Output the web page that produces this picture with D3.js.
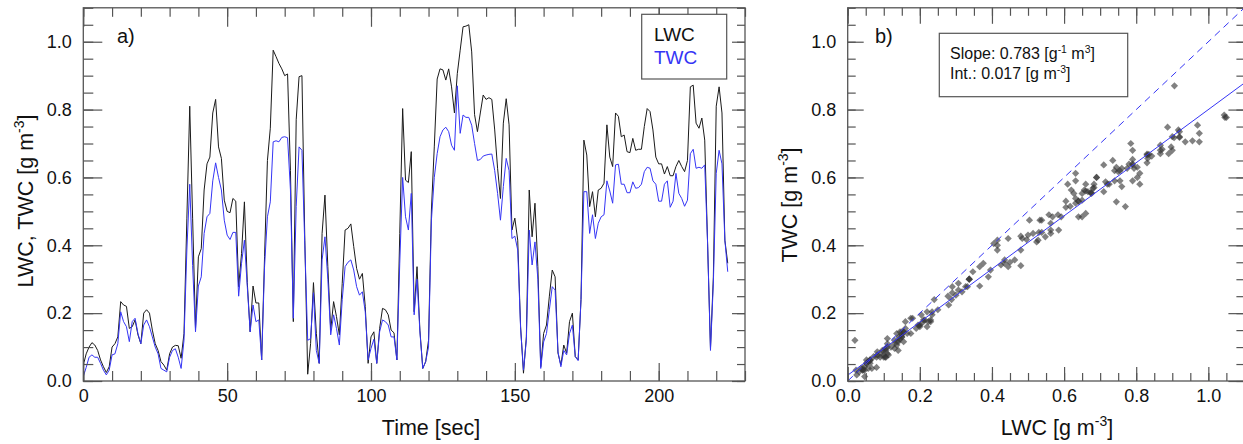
<!DOCTYPE html>
<html>
<head>
<meta charset="utf-8">
<script src="https://cdn.jsdelivr.net/npm/d3@7"></script>
<style>
  body { margin: 0; background: #fff; }
  svg { display: block; font-family: "Liberation Sans", Arial, Helvetica, sans-serif; }
</style>
</head>
<body>
<div id="chart"></div>
<script>
// LWC and TWC, one value per second (t = 0 .. 224 s)
const lwc = [
  0.047, 0.08, 0.10, 0.113, 0.106, 0.09, 0.062, 0.042, 0.025, 0.042,
  0.10, 0.11, 0.13, 0.234, 0.224, 0.22, 0.155, 0.16, 0.18, 0.136,
  0.11, 0.20, 0.21, 0.20, 0.15, 0.11, 0.09, 0.057, 0.047, 0.032,
  0.08, 0.10, 0.105, 0.104, 0.067, 0.14, 0.48, 0.81, 0.48, 0.155,
  0.366, 0.39, 0.563, 0.64, 0.66, 0.79, 0.83, 0.69, 0.656, 0.533,
  0.50, 0.496, 0.538, 0.53, 0.278, 0.376, 0.528, 0.29, 0.145, 0.28,
  0.23, 0.23, 0.062, 0.366, 0.65, 0.745, 0.975, 0.956, 0.936, 0.92,
  0.90, 0.905, 0.62, 0.175, 0.77, 0.897, 0.90, 0.415, 0.02, 0.11,
  0.29, 0.14, 0.052, 0.435, 0.548, 0.337, 0.15, 0.234, 0.19, 0.136,
  0.288, 0.445, 0.45, 0.463, 0.396, 0.332, 0.30, 0.317, 0.22, 0.052,
  0.13, 0.145, 0.052, 0.155, 0.214, 0.21, 0.195, 0.15, 0.142, 0.062,
  0.435, 0.803, 0.592, 0.585, 0.676, 0.204, 0.337, 0.15, 0.037, 0.057,
  0.12, 0.504, 0.69, 0.89, 0.92, 0.917, 0.887, 0.92, 0.867, 0.79,
  0.906, 0.975, 1.044, 1.046, 1.05, 0.97, 0.785, 0.735, 0.79, 0.843,
  0.83, 0.835, 0.83, 0.74, 0.627, 0.538, 0.76, 0.832, 0.755, 0.445,
  0.48, 0.415, 0.16, 0.023, 0.13, 0.563, 0.425, 0.524, 0.337, 0.042,
  0.14, 0.165, 0.25, 0.327, 0.307, 0.082, 0.047, 0.106, 0.082, 0.175,
  0.20, 0.072, 0.062, 0.24, 0.71, 0.666, 0.514, 0.558, 0.484, 0.563,
  0.568, 0.583, 0.755, 0.66, 0.632, 0.79, 0.78, 0.72, 0.725, 0.676,
  0.673, 0.715, 0.68, 0.683, 0.683, 0.75, 0.803, 0.794, 0.74, 0.66,
  0.64, 0.64, 0.61, 0.632, 0.605, 0.605, 0.632, 0.65, 0.632, 0.617,
  0.65, 0.867, 0.872, 0.76, 0.745, 0.775, 0.71, 0.405, 0.096, 0.307,
  0.81, 0.867, 0.79, 0.415, 0.347
];

const twc = [
  0.013, 0.04, 0.07, 0.077, 0.07, 0.07, 0.052, 0.032, 0.018, 0.032,
  0.077, 0.08, 0.11, 0.204, 0.175, 0.16, 0.116, 0.175, 0.185, 0.14,
  0.11, 0.165, 0.18, 0.16, 0.13, 0.10, 0.08, 0.037, 0.032, 0.027,
  0.07, 0.09, 0.095, 0.07, 0.037, 0.12, 0.386, 0.58, 0.34, 0.145,
  0.28, 0.307, 0.435, 0.484, 0.494, 0.59, 0.643, 0.60, 0.563, 0.474,
  0.43, 0.417, 0.438, 0.438, 0.25, 0.347, 0.415, 0.278, 0.145, 0.224,
  0.175, 0.18, 0.062, 0.337, 0.484, 0.528, 0.705, 0.708, 0.705, 0.718,
  0.72, 0.717, 0.563, 0.185, 0.514, 0.69, 0.68, 0.40, 0.12, 0.125,
  0.26, 0.09, 0.052, 0.357, 0.425, 0.30, 0.136, 0.195, 0.155, 0.106,
  0.24, 0.337, 0.35, 0.357, 0.327, 0.278, 0.253, 0.263, 0.204, 0.062,
  0.096, 0.123, 0.052, 0.145, 0.18, 0.175, 0.165, 0.13, 0.13, 0.062,
  0.347, 0.60, 0.484, 0.445, 0.553, 0.195, 0.30, 0.145, 0.037, 0.057,
  0.10, 0.474, 0.60, 0.67, 0.72, 0.74, 0.748, 0.735, 0.695, 0.68,
  0.87, 0.73, 0.784, 0.777, 0.777, 0.754, 0.70, 0.65, 0.653, 0.663,
  0.666, 0.668, 0.669, 0.62, 0.553, 0.474, 0.573, 0.656, 0.62, 0.42,
  0.427, 0.386, 0.155, 0.032, 0.12, 0.445, 0.342, 0.41, 0.30, 0.037,
  0.115, 0.14, 0.21, 0.278, 0.268, 0.086, 0.042, 0.09, 0.077, 0.14,
  0.165, 0.072, 0.06, 0.24, 0.558, 0.558, 0.435, 0.49, 0.42, 0.465,
  0.484, 0.49, 0.59, 0.56, 0.524, 0.637, 0.639, 0.58, 0.58, 0.555,
  0.555, 0.587, 0.568, 0.57, 0.58, 0.617, 0.63, 0.627, 0.59, 0.58,
  0.53, 0.53, 0.58, 0.59, 0.512, 0.53, 0.612, 0.553, 0.538, 0.515,
  0.533, 0.67, 0.683, 0.627, 0.63, 0.627, 0.637, 0.405, 0.09, 0.288,
  0.612, 0.68, 0.64, 0.415, 0.322
];

// linear fit quoted in panel b
const fitSlope = 0.783;
const fitIntercept = 0.017;

const timeTicks = [0, 50, 100, 150, 200];
const wcTicks   = [0, 0.2, 0.4, 0.6, 0.8, 1.0];

const width = 1243, height = 444;
const blue = "#3535f5";
const frameCol = "#555";

const svg = d3.select("#chart").append("svg")
  .attr("width", width).attr("height", height)
  .attr("viewBox", `0 0 ${width} ${height}`);

// scales
const xTime = d3.scaleLinear().domain([0, 230]).range([83.3, 745]);
const yWC   = d3.scaleLinear().domain([0, 1.1]).range([381, 7.8]);
const xLWC  = d3.scaleLinear().domain([0, 1.1]).range([847.7, 1244.4]);

// text with superscripts: parts = [[text, isSup], ...]
const richText = (sel, parts, size) => {
  let up = false;
  parts.forEach(([t, sup]) => {
    const ts = sel.append("tspan").text(t);
    if (sup && !up) { ts.attr("dy", -size * 0.42).attr("font-size", size * 0.65); up = true; }
    else if (!sup && up) { ts.attr("dy", size * 0.42).attr("font-size", size); up = false; }
    else if (sup) ts.attr("font-size", size * 0.65);
  });
  return sel;
};

// IDL-like frame: inward ticks on all four sides
const frame = (xs, ys, o) => {
  const [x0, x1] = xs.range(), [y0, y1] = ys.range();
  const g = svg.append("g");
  const style = a => a.call(s => s.select(".domain").remove())
    .call(s => s.selectAll("line").attr("stroke", frameCol).attr("stroke-width", 1.2))
    .call(s => s.selectAll("text").attr("fill", "#111").style("font-size", "18px"));

  // bottom
  g.append("g").attr("transform", `translate(0,${y0})`)
    .call(d3.axisBottom(xs).tickValues(o.xMinor).tickSize(-o.bMin).tickFormat(""))
    .call(style);
  g.append("g").attr("transform", `translate(0,${y0})`)
    .call(d3.axisBottom(xs).tickValues(o.xMajor).tickSize(-o.bMaj).tickPadding(8).tickFormat(o.xFmt))
    .call(style);
  // top
  g.append("g").attr("transform", `translate(0,${y1})`)
    .call(d3.axisTop(xs).tickValues(o.xMinor).tickSize(-o.tMin).tickFormat(""))
    .call(style);
  g.append("g").attr("transform", `translate(0,${y1})`)
    .call(d3.axisTop(xs).tickValues(o.xMajor).tickSize(-o.tMaj).tickFormat(""))
    .call(style);
  // left
  g.append("g").attr("transform", `translate(${x0},0)`)
    .call(d3.axisLeft(ys).tickValues(d3.range(0, 1.101, 0.05)).tickSize(-o.lMin).tickFormat(""))
    .call(style);
  g.append("g").attr("transform", `translate(${x0},0)`)
    .call(d3.axisLeft(ys).tickValues(wcTicks).tickSize(-o.lMaj).tickPadding(11.5).tickFormat(d3.format(".1f")))
    .call(style);
  // right
  g.append("g").attr("transform", `translate(${x1},0)`)
    .call(d3.axisRight(ys).tickValues(d3.range(0, 1.101, 0.05)).tickSize(-o.rMin).tickFormat(""))
    .call(style);
  g.append("g").attr("transform", `translate(${x1},0)`)
    .call(d3.axisRight(ys).tickValues(wcTicks).tickSize(-o.rMaj).tickFormat(""))
    .call(style);

  g.append("rect")
    .attr("x", x0).attr("y", y1)
    .attr("width", x1 - x0).attr("height", y0 - y1)
    .attr("fill", "none").attr("stroke", frameCol).attr("stroke-width", 1.3);
};

// ---------- panel a: time series ----------
svg.append("clipPath").attr("id", "clipA").append("rect")
  .attr("x", xTime(0)).attr("y", yWC(1.1))
  .attr("width", xTime(230) - xTime(0)).attr("height", yWC(0) - yWC(1.1));

const lineA = d3.line().x((d, i) => xTime(i)).y(d => yWC(d));

const panelA = svg.append("g").attr("clip-path", "url(#clipA)");
panelA.append("path").datum(lwc)
  .attr("d", lineA).attr("fill", "none").attr("stroke", "#1a1a1a").attr("stroke-width", 1);
panelA.append("path").datum(twc)
  .attr("d", lineA).attr("fill", "none").attr("stroke", blue).attr("stroke-width", 1);

frame(xTime, yWC, {
  xMajor: timeTicks, xMinor: d3.range(0, 230.1, 10), xFmt: d3.format("d"),
  bMaj: 18, bMin: 10, tMaj: 19, tMin: 9, lMaj: 19, lMin: 10, rMaj: 13, rMin: 8
});

svg.append("text").attr("x", 117).attr("y", 43)
  .style("font-size", "20px").attr("fill", "#111").text("a)");

// legend
svg.append("rect").attr("x", 641.7).attr("y", 14.3).attr("width", 85).attr("height", 64.7)
  .attr("fill", "#fff").attr("stroke", frameCol).attr("stroke-width", 1.2);
svg.append("text").attr("x", 654).attr("y", 40.7).style("font-size", "19px")
  .attr("fill", "#111").text("LWC");
svg.append("text").attr("x", 654).attr("y", 64.3).style("font-size", "19px")
  .attr("fill", blue).text("TWC");

svg.append("text").attr("x", 431).attr("y", 435).attr("text-anchor", "middle")
  .style("font-size", "21.5px").attr("fill", "#111").text("Time [sec]");

richText(svg.append("text")
  .attr("transform", "translate(33,201) rotate(-90)")
  .attr("text-anchor", "middle").style("font-size", "21.5px").attr("fill", "#111"),
  [["LWC, TWC [g m", false], ["-3", true], ["]", false]], 21.5);

// ---------- panel b: scatter ----------
svg.append("clipPath").attr("id", "clipB").append("rect")
  .attr("x", xLWC(0)).attr("y", yWC(1.1))
  .attr("width", xLWC(1.1) - xLWC(0)).attr("height", yWC(0) - yWC(1.1));

const panelB = svg.append("g").attr("clip-path", "url(#clipB)");

const pairs = lwc.map((d, i) => ({ lwc: d, twc: twc[i] }));
const diamond = d3.symbol().type(d3.symbolSquare).size(26);

panelB.selectAll(".pt")
  .data(pairs)
  .join("path")
    .attr("class", "pt")
    .attr("d", diamond)
    .attr("transform", d => `translate(${xLWC(d.lwc)},${yWC(d.twc)}) rotate(45)`)
    .attr("fill", "#333")
    .attr("fill-opacity", 0.62);

// 1:1 line
panelB.append("line")
  .attr("x1", xLWC(0)).attr("y1", yWC(0))
  .attr("x2", xLWC(1.1)).attr("y2", yWC(1.1))
  .attr("stroke", blue).attr("stroke-width", 1).attr("stroke-dasharray", "7,5");

// fit line
panelB.append("line")
  .attr("x1", xLWC(0)).attr("y1", yWC(fitIntercept))
  .attr("x2", xLWC(1.1)).attr("y2", yWC(fitIntercept + fitSlope * 1.1))
  .attr("stroke", blue).attr("stroke-width", 1);

frame(xLWC, yWC, {
  xMajor: wcTicks, xMinor: d3.range(0, 1.101, 0.05), xFmt: d3.format(".1f"),
  bMaj: 14, bMin: 8, tMaj: 16, tMin: 8, lMaj: 16, lMin: 8, rMaj: 16, rMin: 8
});

svg.append("text").attr("x", 875).attr("y", 43)
  .style("font-size", "20px").attr("fill", "#111").text("b)");

// stats box
svg.append("rect").attr("x", 939.3).attr("y", 33.3).attr("width", 188.4).attr("height", 63.4)
  .attr("fill", "#fff").attr("stroke", frameCol).attr("stroke-width", 1.2);
richText(svg.append("text").attr("x", 950).attr("y", 59.3)
  .style("font-size", "16px").attr("fill", "#111"),
  [[`Slope: ${fitSlope.toFixed(3)} [g`, false], ["-1", true], [" m", false], ["3", true], ["]", false]], 16);
richText(svg.append("text").attr("x", 950).attr("y", 79.3)
  .style("font-size", "16px").attr("fill", "#111"),
  [[`Int.: ${fitIntercept.toFixed(3)} [g m`, false], ["-3", true], ["]", false]], 16);

richText(svg.append("text").attr("x", 1057).attr("y", 435).attr("text-anchor", "middle")
  .style("font-size", "21.5px").attr("fill", "#111"),
  [["LWC [g m", false], ["-3", true], ["]", false]], 21.5);

richText(svg.append("text")
  .attr("transform", "translate(797,205) rotate(-90)")
  .attr("text-anchor", "middle").style("font-size", "21.5px").attr("fill", "#111"),
  [["TWC [g m", false], ["-3", true], ["]", false]], 21.5);
</script>
</body>
</html>
